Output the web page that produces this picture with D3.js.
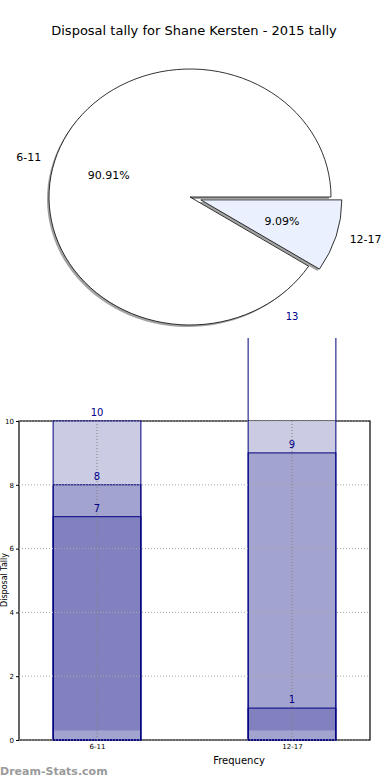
<!DOCTYPE html>
<html>
<head>
<meta charset="utf-8">
<script src="https://cdn.jsdelivr.net/npm/d3@7"></script>
<style>
  body { margin: 0; background: #fff; }
  svg { display: block; font-family: "DejaVu Sans", sans-serif; }
</style>
</head>
<body>
<svg id="chart" width="390" height="780"></svg>
<script>
// Data
const pieLabels = ["6-11", "12-17"];
const pieValues = [10, 1];
const pieColors = ["#ffffff", "#eaf0fd"];

const categories = ["6-11", "12-17"];
const maxValues = [10, 13];
const upperValues = [8, 9];
const medianValues = [7, 1];
const baseValues = [0.3, 0.3];
const yTicks = [0, 2, 4, 6, 8, 10];

const svg = d3.select("#chart");

// Title
svg.append("text")
  .attr("x", 194).attr("y", 35)
  .attr("text-anchor", "middle")
  .style("font-size", "13px")
  .text("Disposal tally for Shane Kersten - 2015 tally");

// Pie (drawn as ellipse, matplotlib style)
const cx = 190, cy = 197, R = 128, sx = 141 / 128;
const total = d3.sum(pieValues);
const pieData = pieLabels.map((l, i) => ({ label: l, value: pieValues[i], color: pieColors[i], idx: i }));

// start at 3 o'clock; matplotlib goes counter-clockwise, so feed reversed order clockwise
const pie = d3.pie().sort(null).value((d) => d.value)
  .startAngle(Math.PI / 2).endAngle(Math.PI / 2 + 2 * Math.PI);
const arcs = pie(pieData.slice().reverse());
const arc = d3.arc().innerRadius(0).outerRadius(R);
const explode = [0, 0.08];

const pieG = svg.append("g");

function offsetFor(d) {
  const mid = (d.startAngle + d.endAngle) / 2;
  const e = explode[d.data.idx] * R;
  return [Math.sin(mid) * e * sx, -Math.cos(mid) * e];
}

// shadows
arcs.forEach((d) => {
  const [ox, oy] = offsetFor(d);
  pieG.append("path")
    .attr("d", arc(d))
    .attr("transform", `translate(${cx + ox - 2},${cy + oy + 2}) scale(${sx},1)`)
    .attr("fill", "#8c8c8c")
    .attr("opacity", 0.8);
});

arcs.forEach((d) => {
  const [ox, oy] = offsetFor(d);
  pieG.append("path")
    .attr("d", arc(d))
    .attr("transform", `translate(${cx + ox},${cy + oy}) scale(${sx},1)`)
    .attr("fill", d.data.color)
    .attr("stroke", "#000")
    .attr("stroke-width", 0.8)
    .attr("vector-effect", "non-scaling-stroke");
});

arcs.forEach((d) => {
  const [ox, oy] = offsetFor(d);
  const mid = (d.startAngle + d.endAngle) / 2;
  const dx = Math.sin(mid), dy = -Math.cos(mid);
  const lx = cx + ox + dx * R * sx * 1.1;
  const ly = cy + oy + dy * R * 1.1;
  pieG.append("text")
    .attr("x", lx).attr("y", ly)
    .attr("dy", "0.35em")
    .attr("text-anchor", dx < 0 ? "end" : "start")
    .style("font-size", "11px")
    .text(d.data.label);
  pieG.append("text")
    .attr("x", cx + ox + dx * R * sx * 0.6)
    .attr("y", cy + oy + dy * R * 0.6)
    .attr("dy", "0.35em")
    .attr("text-anchor", "middle")
    .style("font-size", "11px")
    .text(d3.format(".2f")((d.data.value / total) * 100) + "%");
});

// Bar chart
const plotLeft = 19, plotRight = 370, plotTop = 421, plotBottom = 740;
const x = d3.scaleLinear([-0.4, 1.4], [plotLeft, plotRight]);
const y = d3.scaleLinear([0, 10], [plotBottom, plotTop]);
const barW = x(0.45) - x(0);

const defs = svg.append("defs");
defs.append("clipPath").attr("id", "outerClip")
  .append("rect").attr("x", 0).attr("y", 338).attr("width", 390).attr("height", 420);
defs.append("clipPath").attr("id", "axesClip")
  .append("rect").attr("x", plotLeft).attr("y", plotTop)
  .attr("width", plotRight - plotLeft).attr("height", plotBottom - plotTop);

// frame
svg.append("rect")
  .attr("x", plotLeft).attr("y", plotTop)
  .attr("width", plotRight - plotLeft).attr("height", plotBottom - plotTop)
  .attr("fill", "none").attr("stroke", "#000").attr("stroke-width", 1.2);

const fillG = svg.append("g").attr("clip-path", "url(#axesClip)");
const edgeG = svg.append("g").attr("clip-path", "url(#outerClip)");

const layers = [
  { values: maxValues, fill: "#cbcbe3", stroke: true },
  { values: upperValues, fill: "#a3a3cf", stroke: true },
  { values: medianValues, fill: "#8181c0", stroke: true },
  { values: baseValues, fill: "#a3a3cf", stroke: false },
];

layers.forEach((layer) => {
  fillG.selectAll(null)
    .data(layer.values)
    .enter()
    .append("rect")
    .attr("x", (d, i) => x(i) - barW / 2)
    .attr("y", (d) => y(d))
    .attr("width", barW)
    .attr("height", (d) => y(0) - y(d))
    .attr("fill", layer.fill);
  if (layer.stroke) {
    edgeG.selectAll(null)
      .data(layer.values)
      .enter()
      .append("rect")
      .attr("x", (d, i) => x(i) - barW / 2)
      .attr("y", (d) => y(d))
      .attr("width", barW)
      .attr("height", (d) => y(0) - y(d))
      .attr("fill", "none")
      .attr("stroke", "#000080")
      .attr("stroke-width", 1);
  }
});

// gridlines (dotted, on top)
const gridG = svg.append("g");
gridG.selectAll(null)
  .data(yTicks)
  .enter()
  .append("line")
  .attr("x1", plotLeft).attr("x2", plotRight)
  .attr("y1", (d) => y(d)).attr("y2", (d) => y(d))
  .attr("stroke", "#a8a8a8").attr("stroke-width", 1)
  .attr("stroke-dasharray", "1,2");
gridG.selectAll(null)
  .data(categories)
  .enter()
  .append("line")
  .attr("x1", (d, i) => x(i)).attr("x2", (d, i) => x(i))
  .attr("y1", plotTop).attr("y2", plotBottom)
  .attr("stroke", "#808080").attr("stroke-width", 1)
  .attr("stroke-dasharray", "1,2");

// value labels
const labelsG = svg.append("g");
[maxValues, upperValues, medianValues].forEach((vals) => {
  labelsG.selectAll(null)
    .data(vals)
    .enter()
    .append("text")
    .attr("x", (d, i) => x(i))
    .attr("y", (d) => y(d) - 5)
    .attr("text-anchor", "middle")
    .style("font-size", "10px")
    .style("fill", "#00008b")
    .text((d) => d);
});

// axes
const yAxis = svg.append("g")
  .attr("transform", `translate(${plotLeft},0)`)
  .call(d3.axisLeft(y).tickValues(yTicks).tickSize(3).tickPadding(2).tickFormat(d3.format("d")));
yAxis.select(".domain").remove();
yAxis.selectAll("text").style("font-size", "7px").style("font-family", "DejaVu Sans");

const xAxis = svg.append("g")
  .attr("transform", `translate(0,${plotBottom})`)
  .call(d3.axisBottom(x).tickValues([0, 1]).tickSize(0).tickPadding(4).tickFormat((d) => categories[d]));
xAxis.select(".domain").remove();
xAxis.selectAll("text").style("font-size", "7px").style("font-family", "DejaVu Sans");

svg.append("text")
  .attr("x", 239).attr("y", 764)
  .attr("text-anchor", "middle")
  .style("font-size", "10px")
  .text("Frequency");

svg.append("text")
  .attr("transform", `translate(7,580) rotate(-90)`)
  .attr("text-anchor", "middle")
  .style("font-size", "8px")
  .text("Disposal Tally");

// watermark
svg.append("text")
  .attr("x", 0).attr("y", 775)
  .style("font-size", "11px")
  .style("font-weight", "bold")
  .style("fill", "#9a9a9a")
  .text("Dream-Stats.com");
</script>
</body>
</html>
